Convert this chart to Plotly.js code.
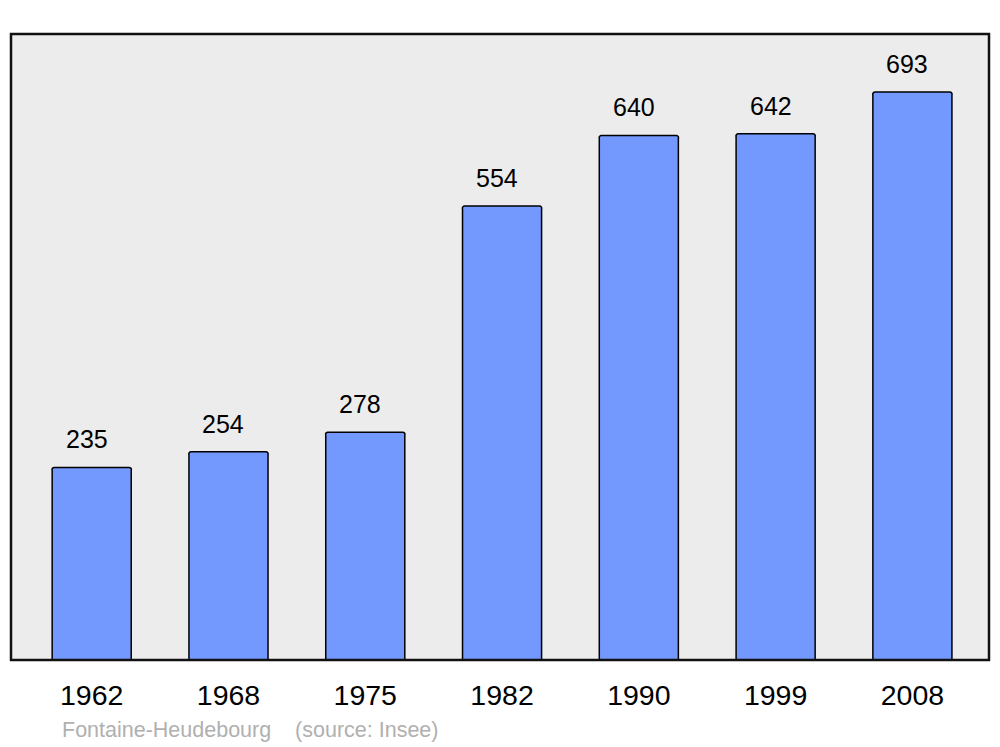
<!DOCTYPE html>
<html>
<head>
<meta charset="utf-8">
<script src="https://cdn.plot.ly/plotly-3.0.1.min.js"></script>
<style>html,body{margin:0;padding:0;background:#fff;}#chart{width:1000px;height:747px;}</style>
</head>
<body>
<div id="chart"></div>
<script>
const years = ["1962", "1968", "1975", "1982", "1990", "1999", "2008"];
const population = [235, 254, 278, 554, 640, 642, 693];
const sourceText = "Fontaine-Heudebourg    (source: Insee)";

const trace = {
  type: "bar",
  x: years,
  y: population,
  width: 0.578,
  marker: {color: "#7399ff", line: {color: "#000000", width: 1.5}, cornerradius: 3},
  hoverinfo: "x+y"
};

const annotations = years.map((yr, i) => ({
  x: i, y: population[i], xref: "x", yref: "y",
  text: String(population[i]), showarrow: false,
  xshift: -5, yshift: 28, yanchor: "middle",
  font: {family: "Liberation Sans, Arial, sans-serif", size: 25, color: "#000"}
}));
annotations.push({
  xref: "paper", yref: "paper", x: 49/978, y: -70/626, xanchor: "left", yanchor: "middle",
  text: sourceText.replace(/ /g, "&nbsp;"), showarrow: false,
  font: {family: "Liberation Sans, Arial, sans-serif", size: 21.5, color: "#b0b0b0"}
});

const layout = {
  width: 1000, height: 747,
  margin: {l: 11, r: 11, t: 34, b: 87},
  paper_bgcolor: "#ffffff",
  plot_bgcolor: "#ececec",
  showlegend: false,
  bargap: 0,
  xaxis: {
    type: "category", range: [-0.59, 6.56], showgrid: false, zeroline: false,
    showline: false, ticks: "", ticklabelstandoff: 15,
    tickfont: {family: "Liberation Sans, Arial, sans-serif", size: 28.5, color: "#000"},
    fixedrange: true
  },
  yaxis: {
    range: [0, 763.8], showgrid: false, zeroline: false, showline: false,
    showticklabels: false, ticks: "", fixedrange: true
  },
  shapes: [{
    type: "rect", xref: "paper", yref: "paper", x0: 0, x1: 1, y0: 0, y1: 1,
    line: {color: "#111111", width: 2.5}, fillcolor: "rgba(0,0,0,0)", layer: "above"
  }],
  annotations: annotations
};

Plotly.newPlot("chart", [trace], layout, {displayModeBar: false, staticPlot: true});
</script>
</body>
</html>
